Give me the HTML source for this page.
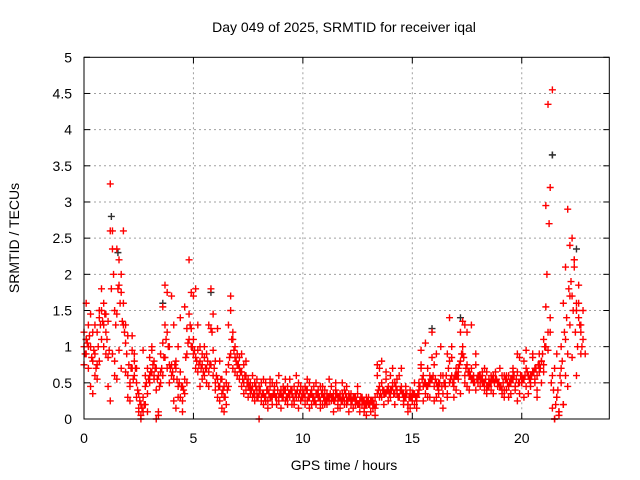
<!DOCTYPE html>
<html><head><meta charset="utf-8"><style>
body{margin:0;background:#fff}
svg{display:block;font-family:"Liberation Sans",sans-serif}
</style></head><body>
<svg id="chart" width="640" height="480" xmlns="http://www.w3.org/2000/svg">
<rect width="640" height="480" fill="#fff"/>
<text x="344" y="32" font-size="14" text-anchor="middle">Day 049 of 2025, SRMTID for receiver iqal</text>
<text transform="translate(19,238) rotate(-90)" font-size="14" text-anchor="middle">SRMTID / TECUs</text>
<text x="344" y="470" font-size="14" text-anchor="middle">GPS time / hours</text>
<g id="grid"></g>
<g id="ticks"></g>
<g id="marks"></g>
<rect x="84" y="57.3" width="525.3" height="361.7" fill="none" stroke="#000" stroke-width="1"/>
</svg>
<script>
const xTicks=[0,5,10,15,20];
const yTicks=[0,0.5,1,1.5,2,2.5,3,3.5,4,4.5,5];
const yTickLabels=["0","0.5","1","1.5","2","2.5","3","3.5","4","4.5","5"];
const times=[];
for(let i=0;i<230;i++)times.push(i/10);
const tecuA=[1.0,1.1,1.3,1.0,0.8,0.9,1.2,1.4,1.5,1.3,1.45,0.85,3.25,2.6,0.8,2.35,2.2,2.0,2.6,1.3,0.6,0.25,0.95,0.8,0.5,0.15,0.05,0.3,0.2,0.35,0.5,0.65,0.8,0.4,0.1,0.5,1.05,1.85,1.75,0.75,0.6,1.3,0.8,0.45,0.3,0.25,0.55,1.25,2.2,1.25,1.1,0.85,0.65,0.45,0.75,0.6,0.5,0.65,1.8,0.95,0.5,0.55,0.8,0.35,0.1,0.2,0.75,1.7,1.1,1.0,0.9,0.55,0.45,0.5,0.6,0.45,0.4,0.45,0.35,0.4,0.45,0.3,0.35,0.25,0.4,0.3,0.5,0.35,0.2,0.3,0.4,0.35,0.25,0.45,0.3,0.4,0.2,0.35,0.3,0.45,0.4,0.3,0.25,0.5,0.35,0.3,0.2,0.4,0.25,0.35,0.3,0.2,0.3,0.45,0.25,0.3,0.2,0.3,0.35,0.25,0.2,0.3,0.25,0.15,0.3,0.2,0.25,0.2,0.15,0.2,0.3,0.25,0.2,0.15,0.35,0.45,0.3,0.4,0.35,0.45,0.3,0.5,0.35,0.4,0.3,0.45,0.35,0.3,0.2,0.3,0.25,0.35,0.3,0.4,0.7,0.6,0.5,0.45,0.6,0.55,0.75,0.5,0.4,0.6,0.35,0.45,0.9,1.4,0.6,0.55,0.7,0.65,0.8,1.0,1.3,0.75,0.6,0.55,0.5,0.4,0.55,0.6,0.65,0.5,0.45,0.55,0.4,0.6,0.55,0.5,0.45,0.6,0.4,0.55,0.6,0.5,0.55,0.45,0.65,0.5,0.6,0.55,0.7,0.6,0.5,0.65,0.7,0.6,0.75,0.8,0.65,1.0,1.2,1.4,4.55,0.7,0.3,0.1,0.5,0.2,0.6,0.9,1.3,1.7,2.2,1.5,1.85,1.3,1.1,0.9];
const tecuB=[0.75,0.9,0.7,0.45,0.35,0.6,0.75,0.8,1.1,1.0,0.9,0.45,2.6,0.9,0.6,1.45,1.85,1.75,1.6,1.05,0.3,0.5,0.7,0.6,0.7,0.1,0.2,0.1,0.45,0.7,0.85,0.95,0.55,0.7,0.05,0.65,0.6,1.3,1.2,0.5,0.75,0.55,0.15,1.0,0.65,0.45,0.35,0.9,1.45,1.0,0.9,0.7,0.95,0.8,0.55,0.85,0.7,1.3,1.25,1.45,0.8,0.3,0.45,0.55,0.3,0.65,0.45,1.5,1.2,0.85,0.6,0.7,0.65,0.35,0.4,0.3,0.5,0.3,0.5,0.55,0.35,0.5,0.2,0.5,0.25,0.45,0.3,0.4,0.5,0.25,0.35,0.45,0.55,0.3,0.35,0.2,0.45,0.3,0.5,0.25,0.35,0.45,0.4,0.3,0.2,0.45,0.35,0.3,0.45,0.2,0.4,0.35,0.25,0.3,0.35,0.5,0.3,0.15,0.25,0.4,0.3,0.35,0.2,0.3,0.25,0.35,0.2,0.3,0.1,0.3,0.2,0.1,0.25,0.3,0.6,0.7,0.5,0.35,0.55,0.4,0.6,0.45,0.5,0.35,0.6,0.4,0.25,0.35,0.2,0.4,0.3,0.2,0.25,0.5,0.95,0.45,0.35,0.7,0.3,1.2,0.45,0.3,0.5,0.25,0.6,0.5,0.35,0.5,0.85,0.45,0.6,0.55,1.2,0.9,0.5,0.45,0.65,0.7,0.6,0.75,0.6,0.55,0.5,0.4,0.35,0.45,0.5,0.55,0.65,0.5,0.45,0.35,0.6,0.4,0.3,0.55,0.7,0.4,0.9,0.35,0.5,0.8,0.45,0.35,0.6,0.9,0.5,0.4,0.65,0.8,1.1,2.95,4.35,1.2,0.6,0.0,0.3,0.05,1.0,1.6,2.1,2.9,1.7,2.5,2.1,1.6,1.4,1.2];
const tecuC=[1.2,1.6,1.0,1.45,1.2,1.3,0.55,1.5,1.8,1.6,1.2,1.35,0.25,2.35,1.5,0.55,0.95,0.7,1.3,0.65,1.15,0.45,1.15,0.9,0.3,0.35,0.0,0.95,0.6,0.1,0.6,1.0,0.6,0.0,0.6,0.9,1.55,0.85,0.7,1.0,1.7,0.25,0.7,0.3,1.4,0.1,1.55,0.5,1.1,1.75,1.7,1.8,1.3,1.0,0.9,1.0,0.9,0.45,0.75,0.6,0.4,1.25,0.25,0.15,0.45,0.5,1.3,0.9,0.7,0.65,0.75,0.85,0.9,0.75,0.8,0.55,0.35,0.6,0.25,0.3,0.0,0.25,0.55,0.3,0.15,0.55,0.2,0.45,0.3,0.6,0.15,0.3,0.4,0.2,0.55,0.35,0.25,0.6,0.15,0.4,0.3,0.2,0.55,0.15,0.4,0.25,0.5,0.3,0.15,0.45,0.2,0.3,0.55,0.25,0.1,0.4,0.15,0.35,0.5,0.2,0.45,0.1,0.35,0.3,0.2,0.45,0.1,0.3,0.25,0.05,0.2,0.25,0.15,0.05,0.75,0.3,0.8,0.2,0.65,0.25,0.4,0.7,0.2,0.55,0.3,0.7,0.2,0.45,0.1,0.15,0.35,0.5,0.15,0.35,0.75,0.25,1.05,0.3,0.5,0.85,0.25,0.9,0.35,1.0,0.15,0.45,0.3,0.8,1.0,0.3,0.4,0.7,0.35,1.35,0.6,1.2,0.4,1.3,0.55,0.9,0.5,0.45,0.6,0.7,0.65,0.5,0.6,0.35,0.55,0.45,0.7,0.4,0.3,0.6,0.45,0.35,0.65,0.45,0.25,0.85,0.5,0.3,0.95,0.6,0.45,0.85,0.55,0.3,0.9,0.5,0.75,1.55,0.95,3.2,0.15,0.0,0.9,0.1,0.7,0.2,1.1,0.45,2.4,0.85,2.2,0.6,1.6,0.9,1.5];
const tecuD=[0.9,1.05,1.15,0.85,0.95,0.7,1.0,1.3,1.35,1.45,1.1,0.95,1.8,2.0,1.3,1.8,1.6,1.35,1.2,0.9,0.75,0.7,0.55,0.7,0.4,0.25,0.15,0.2,0.5,0.55,0.65,0.75,0.7,0.55,0.45,0.7,0.85,1.1,1.0,0.7,0.65,0.75,0.55,0.5,0.45,0.4,0.85,1.05,1.3,1.0,0.95,0.8,0.75,0.7,0.65,0.7,0.8,0.75,1.2,0.7,0.6,0.45,0.55,0.4,0.3,0.4,0.85,1.1,0.95,0.8,0.75,0.65,0.55,0.6,0.5,0.45,0.4,0.35,0.45,0.3,0.4,0.35,0.3,0.4,0.35,0.3,0.35,0.3,0.4,0.35,0.3,0.4,0.3,0.35,0.4,0.3,0.35,0.4,0.35,0.3,0.35,0.4,0.3,0.35,0.3,0.25,0.35,0.3,0.35,0.3,0.25,0.3,0.35,0.3,0.25,0.35,0.3,0.25,0.3,0.35,0.25,0.3,0.25,0.3,0.25,0.2,0.3,0.25,0.2,0.25,0.2,0.25,0.2,0.2,0.4,0.35,0.4,0.35,0.4,0.35,0.4,0.35,0.45,0.3,0.4,0.35,0.3,0.35,0.3,0.3,0.35,0.3,0.35,0.45,0.55,0.5,0.45,0.5,0.55,0.6,0.55,0.45,0.5,0.45,0.5,0.6,0.7,0.55,0.5,0.6,0.6,0.75,0.9,0.85,0.7,0.65,0.6,0.55,0.5,0.55,0.6,0.55,0.5,0.55,0.45,0.5,0.55,0.5,0.55,0.5,0.45,0.5,0.55,0.5,0.5,0.55,0.6,0.55,0.5,0.6,0.55,0.6,0.65,0.55,0.6,0.65,0.7,0.75,0.7,0.9,1.0,2.0,2.7,0.5,0.4,0.2,0.4,0.6,0.8,1.2,1.4,1.8,1.9,1.5,1.2,1.0,1.3,1.0];
const blackT=[0.1,1.25,1.55,3.6,5.8,15.9,17.2,21.4,22.5];
const blackV=[1.1,2.8,2.3,1.6,1.75,1.25,1.4,3.65,2.35];
const L=84,R=609.3,T=57.3,B=419,XMAX=24,YMAX=5;
const sx=v=>L+(R-L)*v/XMAX, sy=v=>B-(B-T)*v/YMAX;
const NS="http://www.w3.org/2000/svg";
function mk(tag,at,parent){const e=document.createElementNS(NS,tag);for(const k in at)e.setAttribute(k,at[k]);parent.appendChild(e);return e;}
const grid=document.getElementById('grid'),ticks=document.getElementById('ticks'),marks=document.getElementById('marks');
xTicks.forEach(v=>{const x=sx(v);
 if(v>0){const g=mk('line',{x1:x,x2:x,y1:T,y2:B,stroke:'#a0a0a0','stroke-dasharray':'2,3'},grid);
 
 }
 mk('line',{x1:x,x2:x,y1:B,y2:B-6,stroke:'#000'},ticks);mk('line',{x1:x,x2:x,y1:T,y2:T+6,stroke:'#000'},ticks);
 const t=mk('text',{x:x,y:B+24,'font-size':14,'text-anchor':'middle'},ticks);t.textContent=v;
 
 });
yTicks.forEach((v,i)=>{const y=sy(v);
 if(v>0&&v<5){const g=mk('line',{x1:L,x2:R,y1:y,y2:y,stroke:'#a0a0a0','stroke-dasharray':'2,3'},grid);
 
 }
 mk('line',{x1:L,x2:L+6,y1:y,y2:y,stroke:'#000'},ticks);mk('line',{x1:R,x2:R-6,y1:y,y2:y,stroke:'#000'},ticks);
 const t=mk('text',{x:L-12,y:y+5,'font-size':14,'text-anchor':'end'},ticks);t.textContent=yTickLabels[i];
 
 });
function plus(t,v,col,name){const x=sx(t),y=sy(v);
 const p=mk('path',{d:`M${x-3.5},${y}H${x+3.5}M${x},${y-3.5}V${y+3.5}`,stroke:col,'stroke-width':1.4,fill:'none'},marks);
 
 }
blackT.forEach((t,i)=>plus(t,blackV[i],'#303030','black-point'));
[tecuA,tecuB,tecuC].forEach(arr=>times.forEach((t,i)=>{if(t<=22.9)plus(t,arr[i],'#ff0000','red-point');}));
times.forEach((t,i)=>{if(t+0.05<=22.9)plus(t+0.05,tecuD[i],'#ff0000','red-point');});
plus(blackT[7],blackV[7],'#303030','black-point');
</script>
</body></html>
